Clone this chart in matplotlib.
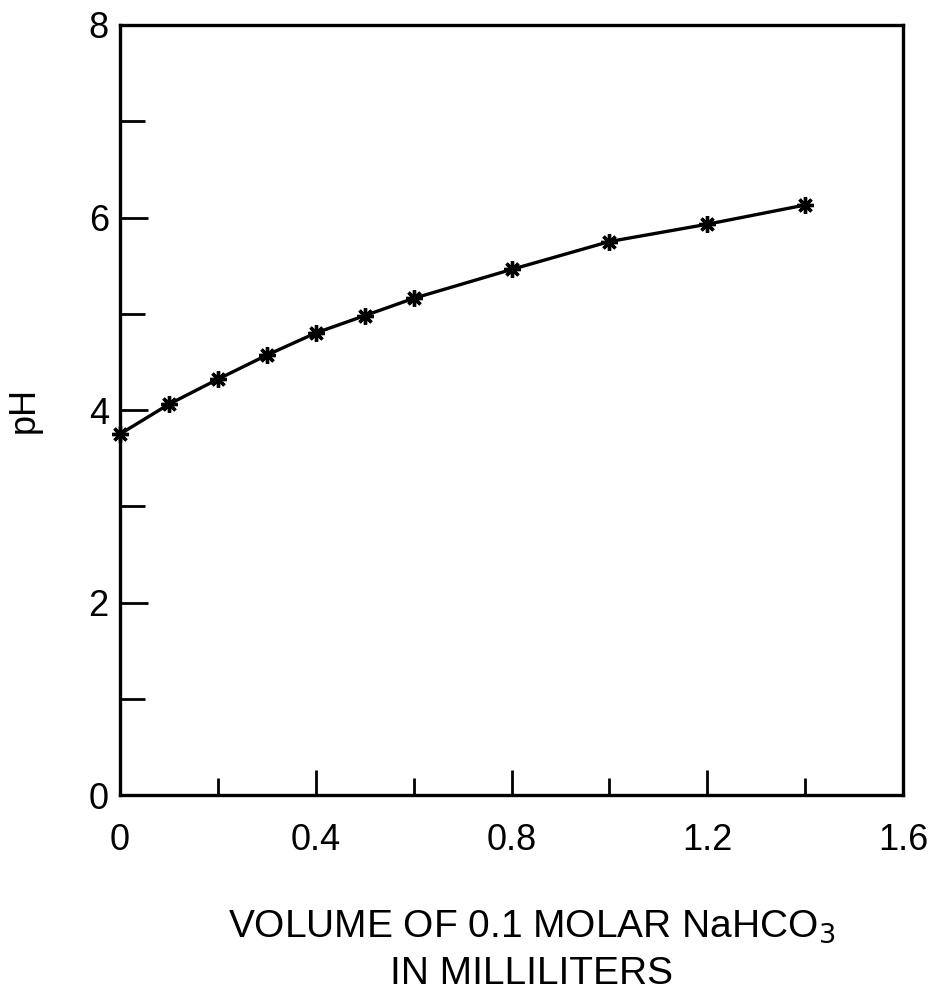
import matplotlib
matplotlib.use("Agg")
import matplotlib.pyplot as plt
from matplotlib.ticker import FixedLocator, FixedFormatter

plt.rcParams['font.family'] = ['Liberation Sans', 'DejaVu Sans']

volume_ml = [0.0, 0.1, 0.2, 0.3, 0.4, 0.5, 0.6, 0.8, 1.0, 1.2, 1.4]
ph_values = [3.75, 4.06, 4.32, 4.57, 4.80, 4.98, 5.16, 5.46, 5.75, 5.93, 6.13]

x_major = [0, 0.4, 0.8, 1.2, 1.6]
x_major_labels = ["0", "0.4", "0.8", "1.2", "1.6"]
x_minor = [0.2, 0.6, 1.0, 1.4]
y_major = [0, 2, 4, 6, 8]
y_minor = [1, 3, 5, 7]

fig = plt.figure(figsize=(9.3, 10.08), dpi=100)
ax = fig.add_axes([0.129, 0.2113, 0.842, 0.7639])

ax.plot(volume_ml, ph_values, color='black', linewidth=2.4,
        marker=(8, 2, 0), markersize=12, markeredgewidth=2.4,
        markerfacecolor='black', markeredgecolor='black', clip_on=False, zorder=3)

ax.set_xlim(0, 1.6)
ax.set_ylim(0, 8)

ax.xaxis.set_major_locator(FixedLocator(x_major))
ax.xaxis.set_major_formatter(FixedFormatter(x_major_labels))
ax.xaxis.set_minor_locator(FixedLocator(x_minor))
ax.yaxis.set_major_locator(FixedLocator(y_major))
ax.yaxis.set_minor_locator(FixedLocator(y_minor))

ax.tick_params(axis='x', which='major', direction='in', length=18, width=2,
               labelsize=26, pad=20)
ax.tick_params(axis='x', which='minor', direction='in', length=12, width=2)
ax.tick_params(axis='y', which='major', direction='in', length=20, width=2,
               labelsize=26, pad=8)
ax.tick_params(axis='y', which='minor', direction='in', length=18, width=2)

for s in ax.spines.values():
    s.set_linewidth(2.4)

ax.set_ylabel('pH', fontsize=26, labelpad=34)
fig.text(0.572, 0.0575, 'VOLUME OF 0.1 MOLAR NaHCO$_3$\nIN MILLILITERS',
         ha='center', va='center', fontsize=28, linespacing=1.4)

fig.savefig('out.png', dpi=100)
